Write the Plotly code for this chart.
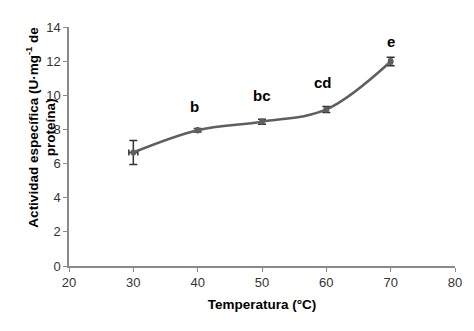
import plotly.graph_objects as go

temperatura = [30, 40, 50, 60, 70]
actividad = [6.65, 7.95, 8.45, 9.17, 11.98]
error = [0.7, 0.1, 0.15, 0.18, 0.25]
letras = ["", "b", "bc", "cd", "e"]
x_ticks = [20, 30, 40, 50, 60, 70, 80]
y_ticks = [0, 2, 4, 6, 8, 10, 12, 14]

fig = go.Figure()
fig.add_trace(go.Scatter(
    x=temperatura, y=actividad, mode="lines+markers",
    line=dict(color="#5f5f5f", width=2.5, shape="spline", smoothing=1.0),
    marker=dict(color="#5f5f5f", size=6),
    error_y=dict(type="data", array=error, color="#333333", thickness=1.5, width=4),
    error_x=dict(type="data", array=error, color="#333333", thickness=1.5, width=3),
    showlegend=False, hoverinfo="skip",
))

yshifts = [0, 24, 26, 27, 20]
xshifts = [0, -3, 0, -3, 0]
for x, y, t, s, xs in zip(temperatura, actividad, letras, yshifts, xshifts):
    if t:
        fig.add_annotation(x=x, y=y, text="<b>" + t + "</b>", showarrow=False,
                           yshift=s, xshift=xs, font=dict(size=15, color="#000000"))

fig.add_annotation(
    xref="paper", yref="paper", x=-0.125, y=0.58,
    text="<b>Actividad específica (U·mg<sup>-1</sup> de<br>proteína)</b>",
    textangle=-90, showarrow=False, font=dict(size=13.5, color="#000000"),
    align="center",
)

axis_common = dict(showline=True, linecolor="#8a8a8a", linewidth=1.5,
                   ticks="outside", ticklen=4, tickcolor="#8a8a8a",
                   showgrid=False, zeroline=False,
                   tickfont=dict(size=13, color="#333333",
                                 family="Liberation Sans, Arial, sans-serif"))

fig.update_layout(
    width=466, height=323,
    margin=dict(l=61, r=15, t=15, b=65),
    paper_bgcolor="white", plot_bgcolor="white",
    font=dict(family="Liberation Sans, Arial, sans-serif"),
    xaxis=dict(range=[20, 80], tickvals=x_ticks,
               title=dict(text="<b>Temperatura (°C)</b>", font=dict(size=13.5, color="#000000"), standoff=10),
               **axis_common),
    yaxis=dict(range=[0, 14], tickvals=y_ticks, **axis_common),
)

fig.write_html("out.html")
